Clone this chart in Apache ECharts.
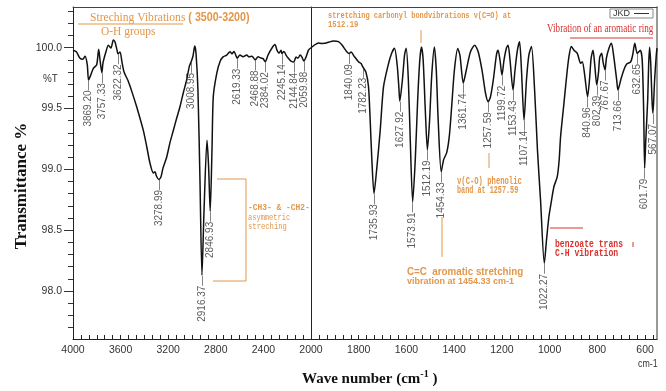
<!DOCTYPE html>
<html>
<head>
<meta charset="utf-8">
<script src="https://cdn.jsdelivr.net/npm/echarts@6/dist/echarts.min.js"></script>
<style>
  html, body { margin: 0; padding: 0; background: #ffffff; }
  #chart { width: 666px; height: 391px; }
</style>
</head>
<body>
<div id="chart"></div>
<script>
// FTIR spectrum: wave number (cm-1) and transmittance (%T), high to low wave number
const waveNumber = [
  4000, 3972, 3941, 3918, 3899, 3880, 3869.20, 3851, 3829, 3801, 3784, 3773, 3757.33, 3748, 3723, 3703,
  3681, 3661, 3647, 3630, 3622.32, 3605, 3588, 3571, 3538, 3504, 3465, 3437, 3409, 3381, 3353, 3325,
  3311, 3299, 3278.99, 3261, 3244, 3213, 3185, 3157, 3129, 3101, 3073, 3045, 3023, 3008.95, 2992, 2977,
  2966, 2950, 2933, 2916.37, 2899, 2874, 2861, 2846.93, 2832, 2821, 2792, 2765, 2739, 2708, 2681, 2664,
  2647, 2619.33, 2597, 2571, 2540, 2521, 2496, 2468.88, 2445, 2420, 2403, 2384.02, 2361, 2328, 2303, 2286,
  2269, 2252, 2245.14, 2227, 2210, 2185, 2168, 2144.84, 2126, 2109, 2092, 2076, 2059.98, 2042, 2021, 2000,
  1987, 1969, 1954, 1941, 1924, 1906, 1885, 1870, 1850, 1840.09, 1832, 1819, 1801, 1790, 1782.23, 1770,
  1759, 1752, 1745, 1735.93, 1725, 1710, 1696, 1675, 1662, 1650, 1639, 1632, 1627.92, 1617, 1608, 1601,
  1592, 1584, 1573.91, 1563, 1553, 1544, 1537, 1530, 1521, 1512.19, 1503, 1494, 1483, 1475, 1467, 1454.33,
  1444, 1431, 1420, 1410, 1399, 1385, 1376, 1361.74, 1349, 1332, 1314, 1299, 1282, 1269, 1257.59, 1248,
  1236, 1223, 1216, 1208, 1199.72, 1191, 1181, 1174, 1166, 1153.43, 1145, 1135, 1126, 1118, 1107.14, 1097,
  1087, 1076, 1063, 1051, 1038, 1022.27, 1013, 1003, 992, 982, 968, 960, 954, 940, 926, 918,
  909, 898, 884, 870, 863, 853, 840.96, 833, 826, 818, 811, 802.39, 795, 790, 782, 776,
  767.67, 762, 751, 741, 732, 719, 713.66, 702, 689, 677, 660, 652, 643, 632.65, 620, 612,
  606, 601.79, 597, 589, 585, 581, 576, 571, 567.07, 560, 553, 550
];
const transmittance = [
  99.98, 99.967, 99.913, 99.905, 99.93, 99.86, 99.735, 99.775, 99.83, 99.86, 99.987, 99.90, 99.795, 99.875, 99.967, 100.02,
  99.998, 100.063, 100.047, 99.98, 99.95, 99.965, 99.88, 99.80, 99.73, 99.635, 99.515, 99.42, 99.32, 99.19, 99.05, 98.97,
  98.98, 98.945, 98.917, 98.937, 99.01, 99.10, 99.22, 99.32, 99.42, 99.515, 99.63, 99.735, 99.845, 99.88, 99.93, 100.014,
  99.95, 99.65, 98.91, 98.13, 98.66, 99.24, 99.035, 98.655, 99.16, 99.60, 99.79, 99.885, 99.925, 99.94, 99.967, 99.95,
  99.97, 99.915, 99.94, 99.925, 99.94, 99.925, 99.93, 99.90, 99.925, 99.915, 99.91, 99.885, 99.94, 99.998, 100.026, 99.98,
  99.955, 99.98, 99.952, 99.97, 99.94, 99.907, 99.89, 99.882, 99.923, 99.915, 99.94, 99.923, 99.89, 99.923, 99.98, 100.0,
  100.02, 100.04, 100.035, 100.036, 100.047, 100.055, 100.05, 100.022, 99.967, 99.952, 99.965, 99.93, 99.885, 99.87, 99.84, 99.80,
  99.68, 99.405, 99.08, 98.80, 98.995, 99.32, 99.68, 99.87, 99.955, 99.995, 99.86, 99.68, 99.56, 99.735, 99.94, 99.995,
  99.735, 99.24, 98.733, 99.08, 99.57, 99.90, 100.006, 99.90, 99.488, 99.16, 99.405, 99.775, 100.006, 99.817, 99.405, 98.98,
  99.08, 99.14, 99.28, 99.53, 99.817, 99.993, 99.94, 99.71, 99.817, 99.965, 100.02, 99.965, 99.80, 99.63, 99.556, 99.595,
  99.735, 99.94, 99.98, 99.90, 99.775, 99.90, 99.998, 100.02, 99.90, 99.652, 99.817, 99.98, 100.05, 99.817, 99.405, 99.735,
  99.94, 100.01, 99.655, 99.16, 98.745, 98.227, 98.42, 98.61, 98.745, 98.857, 98.94, 99.077, 99.27, 99.543, 99.817, 99.94,
  100.01, 99.98, 99.954, 99.872, 99.885, 99.775, 99.597, 99.735, 99.915, 99.98, 99.86, 99.693, 99.80, 99.923, 99.954, 99.882,
  99.817, 99.915, 99.998, 100.036, 99.94, 99.735, 99.652, 99.735, 99.817, 99.866, 99.885, 99.94, 100.036, 99.954, 99.98, 99.90,
  99.49, 99.01, 99.24, 99.57, 99.86, 100.005, 99.86, 99.57, 99.46, 99.735, 99.94, 99.997
];
// Picked peaks (cm-1)
const peakWaveNumber = [
  3869.20, 3757.33, 3622.32, 3278.99, 3008.95, 2916.37, 2846.93, 2619.33, 2468.88, 2384.02, 2245.14,
  2144.84, 2059.98, 1840.09, 1782.23, 1735.93, 1627.92, 1573.91, 1512.19, 1454.33, 1361.74, 1257.59,
  1199.72, 1153.43, 1107.14, 1022.27, 840.96, 802.39, 767.67, 713.66, 632.65, 601.79, 567.07
];
// Axis tick labels
const xTickLabelsHigh = [4000, 3600, 3200, 2800, 2400, 2000];
const xTickLabelsLow = [1800, 1600, 1400, 1200, 1000, 800, 600];
const yTickLabels = [98.0, 98.5, 99.0, 99.5, 100.0];

const Y_MIN = 97.605, Y_MAX = 100.335;
const SPLIT = 2000;

const highPts = [], lowPts = [];
waveNumber.forEach((w, i) => {
  if (w >= SPLIT) highPts.push([w, transmittance[i]]);
  if (w <= SPLIT) lowPts.push([w, transmittance[i]]);
});
const peakPts = peakWaveNumber.map(w => [w, transmittance[waveNumber.indexOf(w)]]);
const highPeaks = peakPts.filter(p => p[0] > SPLIT);
const lowPeaks = peakPts.filter(p => p[0] < SPLIT);

// tick positions: six divisions per labelled step
function ticks(from, to, step) {
  const out = [];
  for (let v = from; v >= to - 1e-6; v -= step) out.push(+v.toFixed(4));
  return out;
}
const xTicksHigh = ticks(4000, 2000, 400 / 6);
const xTicksLow = ticks(2000, 560, 200 / 6);
const yTicksMinor = [];
for (let k = 977; k <= 1003; k++) yTicksMinor.push(k / 10);

const axisFont = "'Liberation Sans Narrow','Arial Narrow','Liberation Sans',Arial,sans-serif";
const ORANGE = '#e3974a';
const RED = '#d8322e';

function peakLabelSeries(data, xi, yi) {
  return {
    type: 'scatter', xAxisIndex: xi, yAxisIndex: yi, data: data,
    symbolSize: 1, itemStyle: { color: 'rgba(0,0,0,0)' }, silent: true, z: 4,
    labelLayout: { hideOverlap: false },
    label: {
      show: true, position: 'bottom', distance: 0, rotate: 90,
      align: 'right', verticalAlign: 'middle',
      fontFamily: "'Liberation Sans',Arial,sans-serif", fontSize: 10, color: '#333',
      formatter: p => p.value[0].toFixed(2) + '\u2014'
    }
  };
}

function borderAxisX(gi) {
  return { gridIndex: gi, type: 'value', position: 'top', min: 0, max: 1,
    axisLine: { show: true, lineStyle: { color: '#444', width: 1 } },
    axisTick: { show: false }, axisLabel: { show: false }, splitLine: { show: false } };
}

function txt(x, y, text, font, fill, scaleX) {
  return { type: 'text', x: x, y: y, scaleX: scaleX || 1, silent: true,
    style: { text: text, font: font, fill: fill, textVerticalAlign: 'middle', verticalAlign: 'middle' } };
}
function seg(x1, y1, x2, y2, color) {
  return { type: 'line', silent: true, shape: { x1: x1, y1: y1, x2: x2, y2: y2 },
    style: { stroke: color, lineWidth: 1 } };
}

const chart = echarts.init(document.getElementById('chart'), null, { renderer: 'canvas' });
chart.setOption({
  animation: false,
  backgroundColor: '#ffffff',
  grid: [
    { left: 73, top: 7, width: 238, bottom: 52, outerBoundsMode: 'none' },
    { left: 311, top: 7, width: 346, bottom: 52, outerBoundsMode: 'none' }
  ],
  xAxis: [
    { gridIndex: 0, type: 'value', min: 2000, max: 4000, inverse: true, position: 'bottom',
      axisLine: { show: true, onZero: false, lineStyle: { color: '#222', width: 1 } },
      axisTick: { show: true, inside: true, length: 4, customValues: xTicksHigh, lineStyle: { color: '#222' } },
      axisLabel: { show: true, customValues: xTickLabelsHigh, margin: 6, fontFamily: axisFont, fontSize: 10.5, color: '#333',
        formatter: v => String(v) },
      splitLine: { show: false } },
    borderAxisX(0),
    { gridIndex: 1, type: 'value', min: 550, max: 2000, inverse: true, position: 'bottom',
      axisLine: { show: true, onZero: false, lineStyle: { color: '#222', width: 1 } },
      axisTick: { show: true, inside: true, length: 4, customValues: xTicksLow, lineStyle: { color: '#222' } },
      axisLabel: { show: true, customValues: xTickLabelsLow, margin: 6, fontFamily: axisFont, fontSize: 10.5, color: '#333',
        formatter: v => String(v) },
      splitLine: { show: false } },
    borderAxisX(1)
  ],
  yAxis: [
    { gridIndex: 0, type: 'value', min: Y_MIN, max: Y_MAX, position: 'left',
      axisLine: { show: true, lineStyle: { color: '#222', width: 1 } },
      axisTick: { show: true, length: 5, customValues: yTicksMinor, lineStyle: { color: '#333' } },
      axisLabel: { show: false }, splitLine: { show: false } },
    { gridIndex: 0, type: 'value', min: Y_MIN, max: Y_MAX, position: 'left',
      axisLine: { show: false },
      axisTick: { show: true, length: 9, customValues: yTickLabels, lineStyle: { color: '#333' } },
      axisLabel: { show: true, customValues: yTickLabels, margin: 11, fontFamily: axisFont, fontSize: 10.5, color: '#333',
        formatter: v => Number(v).toFixed(1) },
      splitLine: { show: false } },
    { gridIndex: 1, type: 'value', min: Y_MIN, max: Y_MAX, position: 'left',
      axisLine: { show: true, lineStyle: { color: '#222', width: 1 } },
      axisTick: { show: false }, axisLabel: { show: false }, splitLine: { show: false } },
    { gridIndex: 1, type: 'value', min: Y_MIN, max: Y_MAX, position: 'right',
      axisLine: { show: true, lineStyle: { color: '#777', width: 1.5 } },
      axisTick: { show: false }, axisLabel: { show: false }, splitLine: { show: false } }
  ],
  series: [
    { type: 'line', xAxisIndex: 0, yAxisIndex: 0, data: highPts, showSymbol: false, smooth: 0.25,
      lineStyle: { color: '#111', width: 1.5 }, silent: true, z: 3 },
    { type: 'line', xAxisIndex: 2, yAxisIndex: 2, data: lowPts, showSymbol: false, smooth: 0.25,
      lineStyle: { color: '#111', width: 1.5 }, silent: true, z: 3 },
    peakLabelSeries(highPeaks, 0, 0),
    peakLabelSeries(lowPeaks, 2, 2)
  ],
  graphic: [
    // axis captions
    txt(43, 79, '%T', "11px 'Liberation Sans',Arial,sans-serif", '#333', 0.9),
    txt(638, 364, 'cm-1', "11px " + axisFont, '#333', 0.8),
    { type: 'text', x: 22, y: 186, rotation: Math.PI / 2, silent: true,
      style: { text: 'Transmittance %', font: "bold 17px 'Liberation Serif','Times New Roman',serif", fill: '#111',
        textAlign: 'center', align: 'center', textVerticalAlign: 'middle', verticalAlign: 'middle' } },
    { type: 'text', x: 302, y: 379, silent: true,
      style: { text: '{t|Wave number (cm}{s|-1}{t| )}', textVerticalAlign: 'middle', verticalAlign: 'middle',
        rich: {
          t: { font: "bold 15px 'Liberation Serif','Times New Roman',serif", fill: '#111', color: '#111' },
          s: { font: "bold 10px 'Liberation Serif','Times New Roman',serif", fill: '#111', color: '#111', verticalAlign: 'top', padding: [0, 0, 9, 0] }
        } } },
    // legend box
    { type: 'rect', silent: true, shape: { x: 610, y: 9, width: 43, height: 9 },
      style: { fill: '#fff', stroke: '#888', lineWidth: 1 } },
    txt(613, 13.5, 'JKD', "9px 'Liberation Sans',Arial,sans-serif", '#333', 1),
    seg(634, 13.5, 649, 13.5, '#333'),
    // O-H stretching note
    { type: 'text', x: 90, y: 18, scaleX: 0.89, silent: true,
      style: { text: '{a|Streching Vibrations}{b| ( 3500-3200)}', textVerticalAlign: 'middle', verticalAlign: 'middle',
        rich: {
          a: { font: "13px 'Liberation Serif','Times New Roman',serif", fill: ORANGE, color: ORANGE },
          b: { font: "bold 12px 'Liberation Sans',Arial,sans-serif", fill: ORANGE, color: ORANGE }
        } } },
    seg(78, 24, 183, 24, ORANGE),
    txt(101, 32, 'O-H groups', "13px 'Liberation Serif','Times New Roman',serif", ORANGE, 0.88),
    // carbonyl note
    txt(328, 16, 'stretching carbonyl bondvibrations \u03bd(C=O) at', "bold 9.5px 'Liberation Mono',monospace", ORANGE, 0.73),
    txt(328, 25, '1512.19', "bold 9.5px 'Liberation Mono',monospace", ORANGE, 0.76),
    seg(421, 30, 421, 43, ORANGE),
    // aromatic ring note
    txt(547, 29, 'Vibration of an aromatic ring', "12px 'Liberation Serif','Times New Roman',serif", RED, 0.76),
    seg(570, 38, 653, 38, RED),
    // CH3 / CH2 note
    seg(217, 179, 246, 179, ORANGE),
    seg(246, 179, 246, 281, ORANGE),
    seg(213, 281, 246, 281, ORANGE),
    txt(248, 208, '-CH3- & -CH2-', "bold 9px 'Liberation Mono',monospace", ORANGE, 0.88),
    txt(248, 218, 'asymmetric', "9px 'Liberation Mono',monospace", ORANGE, 0.78),
    txt(248, 227, 'streching', "9px 'Liberation Mono',monospace", ORANGE, 0.8),
    // phenolic C-O note
    seg(489, 153, 489, 168, ORANGE),
    txt(457, 181, '\u03bd(C-O) phenolic', "bold 10px 'Liberation Mono',monospace", ORANGE, 0.72),
    txt(457, 190, 'band at 1257.59', "bold 10px 'Liberation Mono',monospace", ORANGE, 0.68),
    // C=C note
    seg(442, 217, 442, 257, ORANGE),
    txt(407, 272, 'C=C  aromatic stretching', "bold 10px 'Liberation Sans',Arial,sans-serif", ORANGE, 0.98),
    txt(407, 282, 'vibration at 1454.33 cm-1', "bold 9px 'Liberation Sans',Arial,sans-serif", ORANGE, 1),
    // benzoate note
    seg(550, 228, 583, 228, RED),
    seg(633, 242, 633, 247, RED),
    txt(555, 244, 'benzoate trans', "bold 10px 'Liberation Mono',monospace", RED, 0.81),
    txt(555, 253, 'C-H vibration', "bold 10px 'Liberation Mono',monospace", RED, 0.81)
  ]
});
</script>
</body>
</html>
